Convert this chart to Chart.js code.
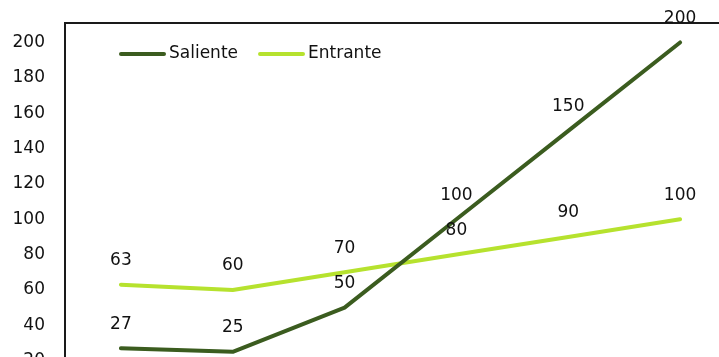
<!DOCTYPE html>
<html>
<head>
<meta charset="utf-8">
<script src="https://cdn.jsdelivr.net/npm/chart.js@4.4.1/dist/chart.umd.min.js"></script>
<style>
  html, body { margin: 0; padding: 0; background: #fff; overflow: hidden; }
  #wrap { position: relative; width: 740px; height: 400px; }
</style>
</head>
<body>
<div id="wrap"><canvas id="grafico"></canvas></div>
<script>
const categorias = ['1', '2', '3', '4', '5', '6'];
const saliente = [27, 25, 50, 100, 150, 200];
const entrante = [63, 60, 70, 80, 90, 100];
const nombres = ['Saliente', 'Entrante'];
const colores = ['#3b5c1f', '#b6e22e'];

const fuente = '17px "DejaVu Sans", Verdana, sans-serif';

// marco superior, etiquetas de datos y leyenda dentro del área
const extras = {
    id: 'extras',
    afterDatasetsDraw(chart) {
        const ctx = chart.ctx;
        const a = chart.chartArea;
        ctx.save();
        ctx.strokeStyle = '#1a1a1a';
        ctx.lineWidth = 2;
        ctx.beginPath();
        ctx.moveTo(a.left - 1, a.top);
        ctx.lineTo(a.right, a.top);
        ctx.stroke();

        ctx.font = fuente;
        ctx.fillStyle = '#111';
        ctx.textAlign = 'center';
        ctx.textBaseline = 'middle';
        chart.data.datasets.forEach((ds, i) => {
            chart.getDatasetMeta(i).data.forEach((p, j) => {
                ctx.fillText(ds.data[j], p.x, p.y - 24);
            });
        });

        // leyenda
        let x = a.left + 56;
        const y = a.top + 31;
        ctx.textAlign = 'left';
        ctx.lineCap = 'round';
        chart.data.datasets.forEach((ds) => {
            ctx.strokeStyle = ds.borderColor;
            ctx.lineWidth = 4;
            ctx.beginPath();
            ctx.moveTo(x, y);
            ctx.lineTo(x + 43, y);
            ctx.stroke();
            ctx.fillStyle = '#111';
            ctx.fillText(ds.label, x + 48, y);
            x += 48 + ctx.measureText(ds.label).width + 22;
        });
        ctx.restore();
    }
};

new Chart(document.getElementById('grafico'), {
    type: 'line',
    data: {
        labels: categorias,
        datasets: [
            { label: nombres[0], data: saliente, borderColor: colores[0], backgroundColor: colores[0],
              borderWidth: 4, pointRadius: 0, tension: 0, borderCapStyle: 'round', borderJoinStyle: 'round' },
            { label: nombres[1], data: entrante, borderColor: colores[1], backgroundColor: colores[1],
              borderWidth: 4, pointRadius: 0, tension: 0, borderCapStyle: 'round', borderJoinStyle: 'round' }
        ]
    },
    options: {
        responsive: true,
        maintainAspectRatio: false,
        animation: false,
        layout: { padding: { left: 12, top: 23, right: 4, bottom: 4 } },
        plugins: { legend: { display: false }, tooltip: { enabled: false } },
        scales: {
            x: { display: false, offset: true },
            y: {
                min: 0, max: 211,
                grid: { display: false, drawTicks: false },
                border: { display: true, color: '#1a1a1a', width: 2 },
                ticks: { stepSize: 20, includeBounds: false, padding: 20, color: '#111',
                         font: { family: '"DejaVu Sans", Verdana, sans-serif', size: 17 } },
                afterFit(scale) {
                    scale.width = 53;
                    scale.paddingTop = 0;
                    scale.paddingBottom = 0;
                }
            }
        }
    },
    plugins: [extras]
});
</script>
</body>
</html>
